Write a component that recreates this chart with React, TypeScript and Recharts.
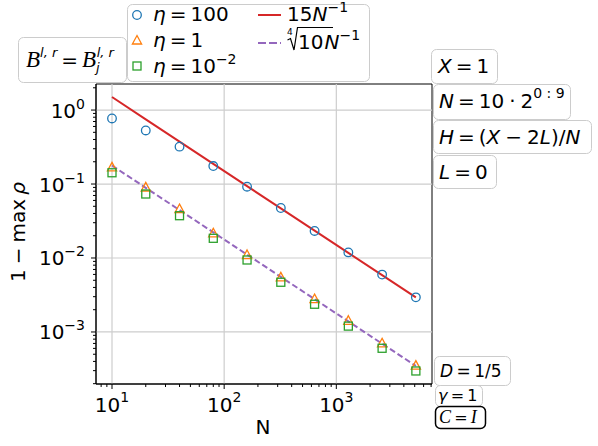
import React from "react";
import {
  ComposedChart,
  Line,
  ReferenceArea,
  ReferenceLine,
  Scatter,
  XAxis,
  YAxis,
} from "recharts";

// N = 10 * 2^(0:9)
const N_VALUES = [10, 20, 40, 80, 160, 320, 640, 1280, 2560, 5120];
const ETA_100 = [0.77, 0.53, 0.32, 0.175, 0.092, 0.0474, 0.0232, 0.0119, 0.00596, 0.00294];
const ETA_1 = [0.168, 0.09, 0.0459, 0.0216, 0.011, 0.00548, 0.00279, 0.00142, 0.000703, 0.000351];
const ETA_001 = [0.142, 0.0733, 0.0373, 0.01846, 0.0094, 0.0047, 0.00237, 0.0012, 0.000602, 0.000297];
// reference slopes 15/N and 10^(1/4)/N
const FIT_15 = [1.5, 0.75, 0.375, 0.1875, 0.09375, 0.046875, 0.0234375, 0.01171875, 0.005859375, 0.0029296875];
const FIT_ROOT = [0.1778, 0.0889, 0.04446, 0.02223, 0.01111, 0.005557, 0.002778, 0.001389, 0.0006946, 0.0003473];

const X_DOMAIN = [7.2, 7130];
const Y_DOMAIN = [1.98e-4, 2.25];
const X_TICKS = [
  8, 9, 10, 20, 30, 40, 50, 60, 70, 80, 90, 100, 200, 300, 400, 500, 600, 700, 800, 900,
  1000, 2000, 3000, 4000, 5000, 6000, 7000,
];
const Y_TICKS = [
  0.0002, 0.0003, 0.0004, 0.0005, 0.0006, 0.0007, 0.0008, 0.0009, 0.001, 0.002, 0.003,
  0.004, 0.005, 0.006, 0.007, 0.008, 0.009, 0.01, 0.02, 0.03, 0.04, 0.05, 0.06, 0.07, 0.08,
  0.09, 0.1, 0.2, 0.3, 0.4, 0.5, 0.6, 0.7, 0.8, 0.9, 1, 2,
];
const X_GRID = [10, 100, 1000];
const Y_GRID = [1, 0.1, 0.01, 0.001];

const BLUE = "#1f77b4";
const ORANGE = "#ff7f0e";
const GREEN = "#2ca02c";
const RED = "#d62728";
const PURPLE = "#9467bd";
const GRID = "#cdcdcd";
const BOX = "#cccccc";
const FONT = "DejaVu Sans, sans-serif";
const CAL = "Liberation Serif, DejaVu Serif, serif";
const EQ = "\u2009=\u2009";

const rows = N_VALUES.map((n, i) => ({
  n,
  eta100: ETA_100[i],
  eta1: ETA_1[i],
  eta001: ETA_001[i],
  fit15: FIT_15[i],
  fitRoot: FIT_ROOT[i],
}));

const decade = (v: number) => {
  const l = Math.log10(v);
  const e = Math.round(l);
  return Math.abs(l - e) < 1e-6 ? e : null;
};
const sup = (e: number) => (e < 0 ? "\u2212" + Math.abs(e) : String(e));

function XTick(props: any) {
  const { x, y, payload } = props;
  const e = decade(payload.value);
  return (
    <g>
      <line x1={x} x2={x} y1={y} y2={y + (e !== null ? 5 : 3)} stroke="#000" strokeWidth={1} />
      {e !== null && (
        <text x={x} y={y + 28} textAnchor="middle" fontFamily={FONT} fontSize={20} fill="#000">
          10<tspan dy={-10} fontSize={14}>{sup(e)}</tspan>
        </text>
      )}
    </g>
  );
}

function YTick(props: any) {
  const { x, y, payload } = props;
  const e = decade(payload.value);
  return (
    <g>
      <line x1={x - (e !== null ? 5 : 3)} x2={x} y1={y} y2={y} stroke="#000" strokeWidth={1} />
      {e !== null && (
        <text x={x - 11} y={y + 7.5} textAnchor="end" fontFamily={FONT} fontSize={20} fill="#000">
          10<tspan dy={-9} fontSize={14}>{sup(e)}</tspan>
        </text>
      )}
    </g>
  );
}

const Circle = (p: any) => (
  <circle cx={p.cx} cy={p.cy} r={4.3} fill="none" stroke={BLUE} strokeWidth={1.3} />
);
const Triangle = (p: any) => (
  <path
    d={`M${p.cx},${p.cy - 5} L${p.cx + 4.6},${p.cy + 3.6} L${p.cx - 4.6},${p.cy + 3.6} Z`}
    fill="none"
    stroke={ORANGE}
    strokeWidth={1.3}
  />
);
const Square = (p: any) => (
  <rect x={p.cx - 4} y={p.cy - 4} width={8} height={8} fill="none" stroke={GREEN} strokeWidth={1.3} />
);

function Box({ x, y, w, h, dark }: { x: number; y: number; w: number; h: number; dark?: boolean }) {
  return (
    <rect
      x={x + 0.5}
      y={y + 0.5}
      width={w}
      height={h}
      rx={5}
      fill="#fff"
      stroke={dark ? "#000" : BOX}
      strokeWidth={dark ? 1.5 : 1}
    />
  );
}

function Overlay() {
  const it = { fontStyle: "italic" as const };
  return (
    <svg
      width={598}
      height={446}
      style={{ position: "absolute", left: 0, top: 0, pointerEvents: "none" }}
      fontFamily={FONT}
      fill="#000"
    >
      {/* legend */}
      <Box x={127} y={4} w={242} h={77} />
      <circle cx={137} cy={15} r={4.3} fill="none" stroke={BLUE} strokeWidth={1.3} />
      <path d="M137,35.5 L141.6,44 L132.4,44 Z" fill="none" stroke={ORANGE} strokeWidth={1.3} />
      <rect x={133} y={62} width={8} height={8} fill="none" stroke={GREEN} strokeWidth={1.3} />
      <text x={153} y={21} fontSize={20}>
        <tspan {...it}>η</tspan>{EQ}100
      </text>
      <text x={153} y={47} fontSize={20}>
        <tspan {...it}>η</tspan>{EQ}1
      </text>
      <text x={153} y={73} fontSize={20}>
        <tspan {...it}>η</tspan>{EQ}10<tspan dy={-9} fontSize={14}>−2</tspan>
      </text>
      <line x1={258} x2={281} y1={15} y2={15} stroke={RED} strokeWidth={2} />
      <line x1={258} x2={281} y1={43} y2={43} stroke={PURPLE} strokeWidth={2} strokeDasharray="8 3" />
      <text x={287} y={21} fontSize={20}>
        15<tspan {...it}>N</tspan>
        <tspan dy={-9} fontSize={14}>−1</tspan>
      </text>
      <text x={287} y={35} fontSize={9}>4</text>
      <path d="M287.5,40 L290.5,38.5 L294,50 L297.5,27.5 L333,27.5" fill="none" stroke="#000" strokeWidth={1.2} />
      <text x={298} y={49} fontSize={20}>
        10<tspan {...it} dx={1}>N</tspan>
        <tspan dy={-9} fontSize={14}>−1</tspan>
      </text>

      {/* left box */}
      <Box x={18} y={37} w={108} h={45} />
      <text x={26} y={67} fontSize={20}>
        <tspan fontFamily={CAL} fontStyle="italic" fontSize={23}>B</tspan>
        <tspan dy={-10} fontSize={13} {...it}>l, r</tspan>
        <tspan dy={10}>{EQ}</tspan>
        <tspan fontFamily={CAL} fontStyle="italic" fontSize={23}>B</tspan>
        <tspan dy={5} fontSize={13} {...it}>j</tspan>
        <tspan dx={-3} dy={-15} fontSize={13} {...it}>l, r</tspan>
      </text>

      {/* right boxes */}
      <Box x={431} y={49} w={66} h={34} />
      <text x={438} y={73} fontSize={20}>
        <tspan {...it}>X</tspan>{EQ}1
      </text>
      <Box x={433} y={84} w={137} h={35} />
      <text x={439} y={108} fontSize={20}>
        <tspan {...it}>N</tspan>{EQ}10{"\u2005·\u2005"}2<tspan dy={-10} fontSize={14}>0 : 9</tspan>
      </text>
      <Box x={433} y={120} w={158} h={33} />
      <text x={439} y={144} fontSize={20}>
        <tspan {...it}>H</tspan>{EQ}(<tspan {...it}>X</tspan>{"\u2005−\u2005"}2<tspan {...it}>L</tspan>)/<tspan {...it}>N</tspan>
      </text>
      <Box x={433} y={155} w={63} h={33} />
      <text x={439} y={179} fontSize={20}>
        <tspan {...it}>L</tspan>{EQ}0
      </text>

      {/* bottom boxes */}
      <Box x={434} y={356} w={76} h={29} />
      <text x={440} y={377} fontSize={17}>
        <tspan {...it}>D</tspan>{EQ}1/5
      </text>
      <Box x={435} y={385} w={47} h={21} />
      <text x={438} y={401} fontSize={16}>
        <tspan {...it}>γ</tspan>{EQ}1
      </text>
      <Box x={435} y={406} w={50} h={22} dark />
      <text x={439} y={423} fontSize={16}>
        <tspan fontFamily={CAL} fontStyle="italic" fontSize={18}>C</tspan>{EQ}<tspan fontFamily={CAL} fontStyle="italic" fontSize={18}>I</tspan>
      </text>

      {/* axis labels */}
      <text x={263} y={434} fontSize={20} textAnchor="middle">N</text>
      <text x={25} y={232} fontSize={20} textAnchor="middle" transform="rotate(-90 25 232)">
        1{"\u2005−\u2005"}max{"\u2009"}<tspan {...it}>ρ</tspan>
      </text>
    </svg>
  );
}

export default function App() {
  return (
    <div style={{ position: "fixed", left: 0, top: 0, width: 598, height: 446, background: "#fff" }}>
      <ComposedChart
        width={598}
        height={446}
        data={rows}
        margin={{ top: 84, right: 166, bottom: 0, left: 0 }}
      >
        <XAxis
          dataKey="n"
          type="number"
          scale="log"
          domain={X_DOMAIN}
          allowDataOverflow
          ticks={X_TICKS}
          interval={0}
          tickSize={0}
          tickMargin={0}
          tickLine={false}
          tick={<XTick />}
          height={62}
          axisLine={{ stroke: "#000", strokeWidth: 1 }}
        />
        <YAxis
          type="number"
          scale="log"
          domain={Y_DOMAIN}
          allowDataOverflow
          ticks={Y_TICKS}
          interval={0}
          tickSize={0}
          tickMargin={0}
          tickLine={false}
          tick={<YTick />}
          width={96}
          axisLine={{ stroke: "#000", strokeWidth: 1 }}
        />
        {X_GRID.map((v) => (
          <ReferenceLine key={"x" + v} x={v} stroke={GRID} strokeWidth={1.2} />
        ))}
        {Y_GRID.map((v) => (
          <ReferenceLine key={"y" + v} y={v} stroke={GRID} strokeWidth={1.2} />
        ))}
        <ReferenceArea
          x1={X_DOMAIN[0]}
          x2={X_DOMAIN[1]}
          y1={Y_DOMAIN[0]}
          y2={Y_DOMAIN[1]}
          fill="none"
          fillOpacity={0}
          stroke="#000"
          strokeWidth={1}
        />
        <Scatter dataKey="eta100" shape={<Circle />} isAnimationActive={false} />
        <Scatter dataKey="eta1" shape={<Triangle />} isAnimationActive={false} />
        <Scatter dataKey="eta001" shape={<Square />} isAnimationActive={false} />
        <Line
          dataKey="fit15"
          stroke={RED}
          strokeWidth={2}
          dot={false}
          isAnimationActive={false}
        />
        <Line
          dataKey="fitRoot"
          stroke={PURPLE}
          strokeWidth={2}
          strokeDasharray="6 3"
          dot={false}
          isAnimationActive={false}
        />
      </ComposedChart>
      <Overlay />
    </div>
  );
}
